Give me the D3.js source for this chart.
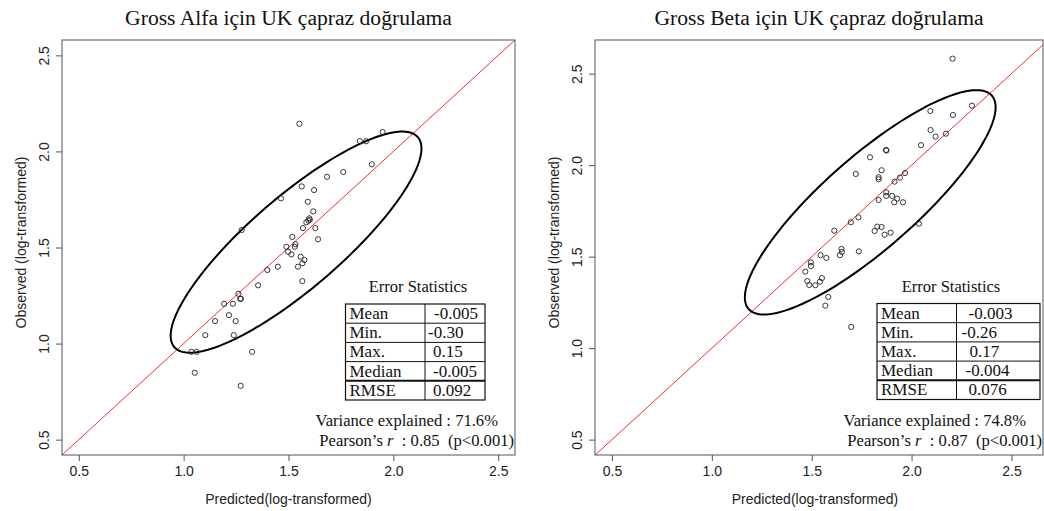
<!DOCTYPE html>
<html><head><meta charset="utf-8">
<script src="https://cdn.jsdelivr.net/npm/d3@7"></script>
<style>
html,body{margin:0;padding:0;background:#fff;}
svg{display:block;}
</style></head>
<body>
<svg id="chart" width="1044" height="511"></svg>
<script>
// ---------- DATA ----------
const titles = ["Gross Alfa için UK çapraz doğrulama", "Gross Beta için UK çapraz doğrulama"];
const xLabel = "Predicted(log-transformed)";
const yLabel = "Observed (log-transformed)";
const tickValues = [0.5, 1.0, 1.5, 2.0, 2.5];

const alfaPred = [1.552,1.949,1.840,1.870,1.897,1.761,1.684,1.563,1.622,1.464,1.592,1.618,1.599,1.602,1.595,1.585,1.277,1.569,1.628,1.518,1.641,1.533,1.490,1.530,1.498,1.514,1.558,1.576,1.566,1.545,1.449,1.399,1.566,1.355,1.261,1.270,1.273,1.193,1.235,1.216,1.150,1.248,1.103,1.239,1.037,1.062,1.327,1.053,1.272];
const alfaObs  = [2.144,2.101,2.054,2.053,1.933,1.893,1.868,1.818,1.799,1.756,1.738,1.688,1.652,1.645,1.639,1.631,1.591,1.601,1.601,1.555,1.543,1.517,1.504,1.504,1.478,1.464,1.452,1.435,1.418,1.400,1.400,1.383,1.325,1.303,1.259,1.233,1.233,1.207,1.207,1.148,1.117,1.117,1.044,1.044,0.957,0.957,0.957,0.848,0.780];

const betaPred = [2.205,2.302,2.094,2.207,2.095,2.120,2.172,2.047,1.872,1.874,1.792,1.850,1.721,1.835,1.835,1.967,1.942,1.915,1.873,1.873,1.903,1.928,1.835,1.913,1.957,1.734,1.696,1.613,2.037,1.828,1.850,1.815,1.895,1.865,1.649,1.651,1.641,1.736,1.544,1.573,1.496,1.496,1.468,1.551,1.478,1.541,1.488,1.518,1.583,1.568,1.698];
const betaObs  = [2.582,2.325,2.296,2.274,2.192,2.156,2.172,2.109,2.083,2.080,2.043,1.972,1.952,1.934,1.923,1.957,1.932,1.910,1.852,1.832,1.832,1.817,1.810,1.797,1.797,1.715,1.688,1.642,1.680,1.664,1.662,1.640,1.631,1.620,1.542,1.526,1.508,1.529,1.508,1.493,1.469,1.449,1.418,1.383,1.367,1.363,1.345,1.344,1.280,1.232,1.116];

// ellipse parameters in data units: centre, semi-axes, rotation (deg)
const alfaEllipse = [1.536, 1.528, 0.7975, 0.2294, 43.7];
const betaEllipse = [1.793, 1.797, 0.8433, 0.2424, 44.2];

const statNames  = ["Mean", "Min.", "Max.", "Median", "RMSE"];
const alfaStats  = ["-0.005", "-0.30", "0.15", "-0.005", "0.092"];
const betaStats  = ["-0.003", "-0.26", "0.17", "-0.004", "0.076"];
const alfaVar = "71.6%", alfaR = "0.85";
const betaVar = "74.8%", betaR = "0.87";

// ---------- LAYOUT ----------
const panels = [
  {title: titles[0], px: alfaPred, py: alfaObs, ell: alfaEllipse, stats: alfaStats, v: alfaVar, r: alfaR,
   box: {x0: 62, x1: 515, y0: 40, y1: 455}, xd: [0.42, 2.58], yd: [0.42, 2.58],
   tbl: {x0: 345.5, xm: 425, x1: 485, y0: 304, head: 418}, txtEnd: [498, 514], titleX: 288.5},
  {title: titles[1], px: betaPred, py: betaObs, ell: betaEllipse, stats: betaStats, v: betaVar, r: betaR,
   box: {x0: 595, x1: 1043, y0: 40, y1: 455}, xd: [0.415, 2.658], yd: [0.416, 2.684],
   tbl: {x0: 877, xm: 956.5, x1: 1040, y0: 303.5, head: 951}, txtEnd: [1026, 1042], titleX: 819}
];
const valIndent = [[9, 3, 8, 8, 8], [12, 5, 13, 9, 12]];
const rowH = 19.2;
const serif = "'Liberation Serif','Times New Roman',serif";
const sans = "'Liberation Sans',Arial,Helvetica,sans-serif";
const axisCol = "#555", textCol = "#222";

const svg = d3.select("#chart");

panels.forEach((p, pi) => {
  const x = d3.scaleLinear().domain(p.xd).range([p.box.x0, p.box.x1]);
  const y = d3.scaleLinear().domain(p.yd).range([p.box.y1, p.box.y0]);
  const g = svg.append("g");
  const clipId = "clip" + pi;
  svg.append("clipPath").attr("id", clipId).append("rect")
    .attr("x", p.box.x0).attr("y", p.box.y0)
    .attr("width", p.box.x1 - p.box.x0).attr("height", p.box.y1 - p.box.y0);

  // title
  g.append("text").attr("x", p.titleX).attr("y", 25).attr("text-anchor", "middle")
    .attr("font-family", serif).attr("font-size", 21.6).attr("fill", "#111").text(p.title);

  // 1:1 line
  const lo = Math.min(p.xd[0], p.yd[0]), hi = Math.max(p.xd[1], p.yd[1]);
  g.append("line").attr("clip-path", `url(#${clipId})`)
    .attr("x1", x(lo)).attr("y1", y(lo)).attr("x2", x(hi)).attr("y2", y(hi))
    .attr("stroke", "#f03030").attr("stroke-width", 1);

  // ellipse
  const [cx, cy, a, b, ang] = p.ell;
  const th = ang * Math.PI / 180;
  const pts = d3.range(0, 361, 2).map(d => {
    const t = d * Math.PI / 180;
    return [cx + a * Math.cos(t) * Math.cos(th) - b * Math.sin(t) * Math.sin(th),
            cy + a * Math.cos(t) * Math.sin(th) + b * Math.sin(t) * Math.cos(th)];
  });
  g.append("path").attr("d", d3.line().x(d => x(d[0])).y(d => y(d[1])).curve(d3.curveLinearClosed)(pts))
    .attr("fill", "none").attr("stroke", "#000").attr("stroke-width", 2);

  // points
  g.append("g").selectAll("circle").data(p.px.map((v, i) => [v, p.py[i]])).join("circle")
    .attr("cx", d => x(d[0])).attr("cy", d => y(d[1])).attr("r", 2.6)
    .attr("fill", "none").attr("stroke", "#222").attr("stroke-width", 0.9);

  // axes
  const xa = g.append("g").attr("transform", `translate(0,${p.box.y1})`)
    .call(d3.axisBottom(x).tickValues(tickValues).tickFormat(d3.format(".1f")).tickSizeOuter(0).tickSize(6).tickPadding(5));
  const ya = g.append("g").attr("transform", `translate(${p.box.x0},0)`)
    .call(d3.axisLeft(y).tickValues(tickValues).tickFormat(d3.format(".1f")).tickSizeOuter(0).tickSize(6).tickPadding(5));
  [xa, ya].forEach(ax => {
    ax.select(".domain").remove();
    ax.selectAll("line").attr("stroke", axisCol);
    ax.selectAll("text").attr("font-family", sans).attr("font-size", 14).attr("fill", textCol);
  });
  ya.selectAll(".tick text").attr("text-anchor", "middle").attr("x", null).attr("dy", null)
    .attr("transform", "translate(-18,0) rotate(-90)").attr("y", 0).attr("dy", "0.35em");

  // box
  g.append("rect").attr("x", p.box.x0).attr("y", p.box.y0)
    .attr("width", p.box.x1 - p.box.x0).attr("height", p.box.y1 - p.box.y0)
    .attr("fill", "none").attr("stroke", axisCol).attr("stroke-width", 1);

  // axis titles
  g.append("text").attr("x", (p.box.x0 + p.box.x1) / 2 - (pi ? 4 : 0)).attr("y", 504).attr("text-anchor", "middle")
    .attr("font-family", sans).attr("font-size", 14).attr("fill", textCol).text(xLabel);
  g.append("text").attr("transform", `translate(${p.box.x0 - 41},${(p.box.y0 + p.box.y1) / 2 - 5}) rotate(-90)`)
    .attr("text-anchor", "middle").attr("dy", "0.35em")
    .attr("font-family", sans).attr("font-size", 14).attr("fill", textCol).text(yLabel);

  // statistics table
  const t = p.tbl;
  g.append("text").attr("x", t.head).attr("y", 292).attr("text-anchor", "middle")
    .attr("font-family", serif).attr("font-size", 16.5).attr("fill", "#111").text("Error Statistics");
  const tg = g.append("g");
  const nRows = statNames.length;
  tg.append("rect").attr("x", t.x0).attr("y", t.y0).attr("width", t.x1 - t.x0).attr("height", rowH * nRows)
    .attr("fill", "none").attr("stroke", "#111").attr("stroke-width", 1.2);
  tg.append("line").attr("x1", t.xm).attr("x2", t.xm).attr("y1", t.y0).attr("y2", t.y0 + rowH * nRows)
    .attr("stroke", "#111").attr("stroke-width", 1);
  tg.selectAll("line.row").data(d3.range(1, nRows)).join("line").attr("class", "row")
    .attr("x1", t.x0).attr("x2", t.x1).attr("y1", i => t.y0 + rowH * i).attr("y2", i => t.y0 + rowH * i)
    .attr("stroke", "#111").attr("stroke-width", i => i === nRows - 1 ? 2 : 1);
  tg.selectAll("text.nm").data(statNames).join("text").attr("class", "nm")
    .attr("x", t.x0 + 4).attr("y", (d, i) => t.y0 + rowH * i + 15)
    .attr("font-family", serif).attr("font-size", 17).attr("fill", "#111").text(d => d);
  tg.selectAll("text.vl").data(p.stats).join("text").attr("class", "vl")
    .attr("x", (d, i) => t.xm + valIndent[pi][i]).attr("y", (d, i) => t.y0 + rowH * i + 15)
    .attr("font-family", serif).attr("font-size", 17).attr("fill", "#111").text(d => d);

  // summary text
  g.append("text").attr("x", p.txtEnd[0]).attr("y", 426).attr("text-anchor", "end")
    .attr("font-family", serif).attr("font-size", 16.6).attr("fill", "#111")
    .text("Variance explained : " + p.v);
  const pr = g.append("text").attr("x", p.txtEnd[1]).attr("y", 446).attr("text-anchor", "end")
    .attr("font-family", serif).attr("font-size", 16.6).attr("fill", "#111").attr("xml:space", "preserve");
  pr.append("tspan").text("Pearson’s ");
  pr.append("tspan").attr("font-style", "italic").text("r");
  pr.append("tspan").text("  : " + p.r + "  (p<0.001)");
});
</script>
</body></html>
